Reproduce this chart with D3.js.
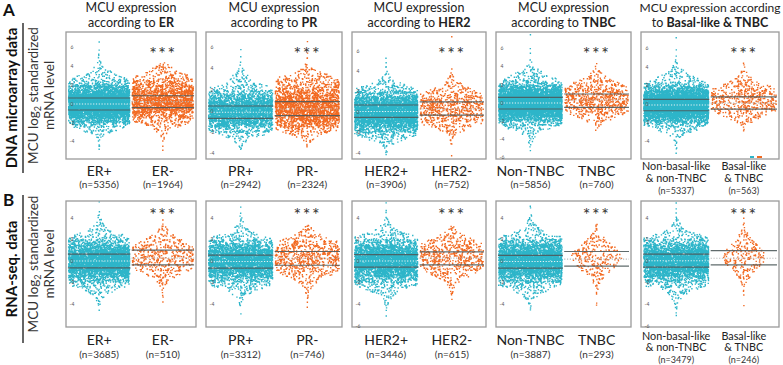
<!DOCTYPE html>
<html>
<head>
<meta charset="utf-8">
<script src="https://cdn.jsdelivr.net/npm/d3@7"></script>
<style>
  body { margin: 0; background: #fff; }
  svg { display: block; font-family: Lato, "Open Sans", sans-serif; }
</style>
</head>
<body>
<svg id="chart" width="783" height="365"></svg>
<script>
// ---- data ----
// histogram bins: 27 bins of 0.5 starting at -6 (log2 standardized units)
const binStart = -6;
const binStep = 0.5;

const panelKeys = ["ER", "PR", "HER2", "TNBC", "Basal-like & TNBC"];
const groupLabels = [
  ["ER+", "ER-"],
  ["PR+", "PR-"],
  ["HER2+", "HER2-"],
  ["Non-TNBC", "TNBC"],
  ["Non-basal-like|& non-TNBC", "Basal-like|& TNBC"]
];

const nMicro = [[5356, 1964], [2942, 2324], [3906, 752], [5856, 760], [5337, 563]];
const nRnaseq = [[3685, 510], [3312, 746], [3446, 615], [3887, 293], [3479, 246]];

// counts per bin (estimated from the dot clouds)
const histMicro = [
  [[0,0,1,3,5,11,32,96,246,493,793,1018,1018,793,482,241,96,43,27,11,4,3,2,1,0,1,0],
   [0,0,1,1,3,6,14,35,70,130,220,300,300,260,230,160,100,60,35,18,8,0,0,0,0,0,0]],
  [[0,0,0,0,2,5,15,45,120,270,430,560,540,420,260,130,55,25,18,8,3,1,1,1,0,0,0],
   [0,0,0,0,0,3,10,30,80,170,270,330,350,330,260,180,120,80,50,20,6,2,1,0,0,1,0]],
  [[0,0,0,1,4,10,30,80,190,370,560,720,720,560,360,180,80,30,12,5,2,1,1,0,0,0,0],
   [0,0,0,1,0,2,4,10,25,50,80,110,125,120,95,65,35,18,8,3,1,0,0,0,0,0,1]],
  [[0,1,2,4,8,16,40,110,270,540,860,1100,1100,860,520,250,100,40,25,12,4,2,1,1,0,0,1],
   [0,0,0,0,0,0,3,10,25,50,80,110,125,120,95,65,40,20,10,4,2,0,0,0,0,0,0]],
  [[0,1,2,3,6,14,36,100,250,510,820,1020,990,760,450,210,85,35,22,10,4,2,1,1,0,0,1],
   [0,0,0,0,0,0,2,7,18,35,60,80,90,90,75,50,30,14,7,3,2,0,0,0,0,0,0]]
];
const histRnaseq = [
  [[0,0,1,2,5,12,30,75,175,340,540,700,700,540,330,160,65,25,12,6,3,1,1,0,0,0,0],
   [0,0,0,0,1,2,3,7,15,32,55,75,85,80,65,45,25,12,5,2,1,0,0,0,0,0,0]],
  [[0,0,1,2,5,12,28,70,160,310,490,630,620,480,290,140,55,20,10,5,2,1,0,0,0,0,0],
   [0,0,0,1,1,3,6,12,25,48,80,110,125,120,95,65,35,15,5,0,0,0,0,0,0,0,0]],
  [[0,1,1,3,6,14,32,75,170,320,510,650,650,510,310,150,60,25,12,5,2,1,1,0,0,0,0],
   [0,0,0,0,1,2,4,10,20,40,65,90,105,100,80,55,28,12,4,0,0,0,0,0,0,0,0]],
  [[0,0,1,2,6,14,32,80,185,360,570,740,730,560,340,165,65,25,13,6,3,1,1,0,0,0,0],
   [0,0,0,1,1,1,3,6,11,20,32,42,47,45,36,25,13,6,3,0,0,0,0,0,0,0,0]],
  [[0,1,1,3,6,13,30,75,170,325,515,660,655,510,310,150,60,24,12,5,2,1,1,0,0,0,0],
   [0,0,0,1,0,1,2,4,9,16,26,35,40,38,30,21,12,6,3,1,1,0,0,0,0,0,0]]
];

// [q1, median, q3] per group
const quartMicro = [
  [[-0.64, 0, 0.64], [-0.39, 0.25, 0.88]],
  [[-0.69, -0.12, 0.47], [-0.44, 0.19, 0.88]],
  [[-0.52, 0.05, 0.69], [-0.3, 0.3, 1.0]],
  [[-0.66, 0, 0.63], [-0.47, 0.33, 0.99]],
  [[-0.72, -0.1, 0.5], [-0.54, 0.1, 0.78]]
];
const quartRnaseq = [
  [[-0.64, 0, 0.64], [-0.36, 0.27, 1.0]],
  [[-0.66, -0.05, 0.55], [-0.39, 0.25, 0.88]],
  [[-0.57, 0, 0.6], [-0.36, 0.27, 0.85]],
  [[-0.66, -0.05, 0.52], [-0.48, 0.18, 0.88]],
  [[-0.57, 0.02, 0.64], [-0.36, 0.25, 0.97]]
];

const yDomMicro = [[-5.85, 7.66], [-4.53, 7.45], [-4.6, 7.84], [-6.15, 7.8], [-5.9, 7.74]];
const yDomRnaseq = [[-6.1, 5.55], [-6.1, 5.55], [-6.1, 5.55], [-6.1, 5.55], [-6.1, 5.55]];

const ticksMicro = [[-4,-2,0,2,4,6], [-4,-2,0,2,4,6], [-4,-2,0,2,4,6], [-6,-4,-2,0,2,4,6], [-4,-2,0,2,4,6]];
const ticksRnaseq = [[-4,-2,0,2,4], [-4,-2,0,2,4], [-6,-4,-2,0,2,4], [-4,-2,0,2,4], [-6,-4,-2,0,2,4]];

// ---- layout ----
const panelX = [[66, 196], [206, 342], [352, 486], [496, 631], [641, 779]];
const groupColors = ["#2db5c9", "#f26a22"];

const rows = [
  { letter: "A", letterY: 16, name: "DNA microarray data", y0: 32, y1: 159, barY: [23, 173],
    hist: histMicro, n: nMicro, quart: quartMicro, yDom: yDomMicro, ticks: ticksMicro,
    catY: 176, nY: 188, multiY: [170, 182, 194], starY: 60 },
  { letter: "B", letterY: 206, name: "RNA-seq. data", y0: 201, y1: 327, barY: [195, 343],
    hist: histRnaseq, n: nRnaseq, quart: quartRnaseq, yDom: yDomRnaseq, ticks: ticksRnaseq,
    catY: 345, nY: 358, multiY: [339.5, 351, 362.5], starY: 221 }
];

const svg = d3.select("#chart");

// cheap deterministic hash in [0,1) for jittering dots inside a bin
function jit(i) {
  let s = Math.sin(i * 12.9898 + 78.233) * 43758.5453;
  return s - Math.floor(s);
}

class SwarmPanel {

  constructor(_config, _data) {
    this.config = _config;
    this.data = _data;
    this.initVis();
  }

  initVis() {
    let vis = this;
    let c = vis.config;

    vis.x = d3.scaleBand()
      .domain(vis.data.labels)
      .range([c.x0, c.x1])
      .paddingInner(0.02)
      .paddingOuter(0.03);
    vis.y = d3.scaleLinear()
      .domain(vis.data.yDomain)
      .range([c.y1, c.y0]);

    vis.g = svg.append("g");

    // dots, one path per group (way faster than thousands of circles)
    vis.data.labels.forEach((lab, gi) => {
      vis.g.append("path")
        .attr("d", vis.dotPath(vis.data.hist[gi], vis.x(lab) + vis.x.bandwidth() / 2, gi + c.seed))
        .attr("fill", groupColors[gi]);
    });

    // quartile lines + dotted median
    vis.data.labels.forEach((lab, gi) => {
      let cx = vis.x(lab) + vis.x.bandwidth() / 2;
      let q = vis.data.quart[gi];
      let half = vis.x.bandwidth() / 2;
      [q[0], q[2]].forEach(v => {
        vis.g.append("line")
          .attr("x1", cx - half).attr("x2", cx + half)
          .attr("y1", vis.y(v)).attr("y2", vis.y(v))
          .attr("stroke", "#4f5b5d").attr("stroke-width", 1.2).attr("opacity", 0.9);
      });
      vis.g.append("line")
        .attr("x1", cx - half).attr("x2", cx + half)
        .attr("y1", vis.y(q[1])).attr("y2", vis.y(q[1]))
        .attr("stroke", gi === 0 ? "#e8f4f6" : "#b9b9b9")
        .attr("stroke-width", 1.1)
        .attr("stroke-dasharray", "1.2,1.6");
    });

    // frame
    vis.g.append("rect")
      .attr("x", c.x0).attr("y", c.y0)
      .attr("width", c.x1 - c.x0).attr("height", c.y1 - c.y0)
      .attr("fill", "none").attr("stroke", "#9a9a9a").attr("stroke-width", 1.3);

    // tiny tick labels sit inside the frame
    vis.g.selectAll(".tick")
      .data(vis.data.ticks)
      .join("text")
        .attr("x", c.x0 + 6)
        .attr("y", d => vis.y(d) + 1.8)
        .attr("text-anchor", "middle")
        .attr("font-size", 5)
        .attr("fill", "#555")
        .text(d => d);

    // significance stars over the second group
    vis.g.append("text")
      .attr("x", vis.x(vis.data.labels[1]) + vis.x.bandwidth() / 2)
      .attr("y", c.starY)
      .attr("text-anchor", "middle")
      .attr("font-size", 18)
      .attr("letter-spacing", 1.5)
      .attr("fill", "#333")
      .text("***");

    // category labels + n
    vis.data.labels.forEach((lab, gi) => {
      let cx = vis.x(lab) + vis.x.bandwidth() / 2;
      let parts = lab.split("|");
      let nTxt = "(n=" + vis.data.n[gi] + ")";
      if (parts.length > 1) {
        parts.forEach((p, i) => {
          vis.g.append("text").attr("x", cx).attr("y", c.multiY[i])
            .attr("text-anchor", "middle").attr("font-size", 10.8).attr("fill", "#222").text(p);
        });
        vis.g.append("text").attr("x", cx).attr("y", c.multiY[2])
          .attr("text-anchor", "middle").attr("font-size", 9).attr("fill", "#333").text(nTxt);
      } else {
        vis.g.append("text").attr("x", cx).attr("y", c.catY)
          .attr("text-anchor", "middle").attr("font-size", 14).attr("fill", "#222").text(lab);
        vis.g.append("text").attr("x", cx).attr("y", c.nY)
          .attr("text-anchor", "middle").attr("font-size", 10).attr("fill", "#333").text(nTxt);
      }
    });
  }

  // spread each bin's dots across a width that grows with the count, capped at the band
  dotPath(hist, cx, seed) {
    let vis = this;
    let binPx = Math.abs(vis.y(binStep) - vis.y(0));
    let dotArea = 6;
    let sz = 1.4;
    let cap = vis.x.bandwidth();
    let hw = hist.map(n => Math.min(cap, n * dotArea / binPx) / 2);
    let halfAt = v => {
      let t = (v - binStart) / binStep - 0.5;
      let k = Math.floor(t), f = t - k;
      let ka = Math.max(0, Math.min(hw.length - 1, k));
      let kb = Math.max(0, Math.min(hw.length - 1, k + 1));
      if (hist[ka] === 0 || hist[kb] === 0) return Math.max(hw[ka], hw[kb]) * 0.8;
      return hw[ka] + (hw[kb] - hw[ka]) * f;
    };
    let d = "";
    let idx = seed * 100003;
    hist.forEach((n, k) => {
      for (let j = 0; j < n; j++) {
        idx++;
        let u = jit(idx * 2 + 1);
        let w = jit(idx * 2 + 7919);
        let v = binStart + binStep * (k + w);
        let px = cx + (2 * u - 1) * (halfAt(v) - sz / 2);
        let py = vis.y(v);
        d += "M" + (px - sz / 2).toFixed(2) + "," + (py - sz / 2).toFixed(2) + `h${sz}v${sz}h-${sz}z`;
      }
    });
    return d;
  }
}

// ---- build both rows ----
rows.forEach((r, ri) => {
  // panel letter + row name with its bar
  svg.append("text").attr("x", 3).attr("y", r.letterY)
    .attr("font-size", 17).attr("font-weight", "bold").attr("fill", "#111").text(r.letter);
  svg.append("line").attr("x1", 23).attr("x2", 23).attr("y1", r.barY[0]).attr("y2", r.barY[1])
    .attr("stroke", "#333").attr("stroke-width", 1.5);
  let mid = (r.barY[0] + r.barY[1]) / 2;
  svg.append("text")
    .attr("transform", `translate(17,${mid}) rotate(-90)`)
    .attr("text-anchor", "middle").attr("font-size", 15).attr("font-weight", "bold").attr("fill", "#111")
    .text(r.name);

  // y axis title
  let ym = (r.y0 + r.y1) / 2;
  let t1 = svg.append("text")
    .attr("transform", `translate(38,${ym}) rotate(-90)`)
    .attr("text-anchor", "middle").attr("font-size", 13.5).attr("fill", "#333");
  t1.append("tspan").text("MCU log");
  t1.append("tspan").attr("font-size", 9).attr("dy", 3).text("2");
  t1.append("tspan").attr("dy", -3).text(" standardized");
  svg.append("text")
    .attr("transform", `translate(54,${ym}) rotate(-90)`)
    .attr("text-anchor", "middle").attr("font-size", 13.5).attr("fill", "#333")
    .text("mRNA level");

  panelX.forEach((px, pi) => {
    new SwarmPanel(
      { x0: px[0], x1: px[1], y0: r.y0, y1: r.y1, catY: r.catY, nY: r.nY, multiY: r.multiY,
        starY: r.starY, seed: ri * 10 + pi * 2 },
      { labels: groupLabels[pi], hist: r.hist[pi], n: r.n[pi], quart: r.quart[pi],
        yDomain: r.yDom[pi], ticks: r.ticks[pi] }
    );
  });
});

// panel titles
panelX.forEach((px, pi) => {
  let cx = (px[0] + px[1]) / 2;
  let last = pi === panelKeys.length - 1;
  let t = svg.append("text").attr("text-anchor", "middle").attr("font-size", 12.5).attr("fill", "#222");
  let l1 = t.append("tspan").attr("x", cx).attr("y", 12).text(last ? "MCU expression according" : "MCU expression");
  if (last) l1.attr("font-size", 12);
  let l2 = t.append("tspan").attr("x", cx).attr("y", 27);
  l2.append("tspan").text(last ? "to " : "according to ");
  l2.append("tspan").attr("font-weight", "bold").text(panelKeys[pi]);
});

// the little coloured marks in the corner of the last top panel
svg.append("rect").attr("x", 750).attr("y", 156).attr("width", 4).attr("height", 2).attr("fill", groupColors[0]);
svg.append("rect").attr("x", 757).attr("y", 156).attr("width", 5).attr("height", 2).attr("fill", groupColors[1]);
</script>
</body>
</html>
